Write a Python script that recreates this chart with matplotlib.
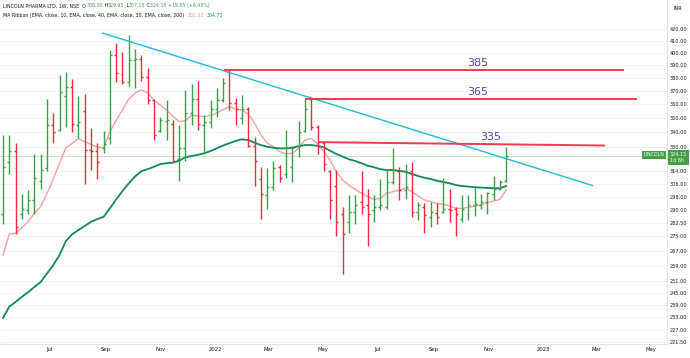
import numpy as np
import pandas as pd
import matplotlib
matplotlib.use("Agg")
import matplotlib.pyplot as plt
import matplotlib.dates as mdates
from matplotlib.ticker import FixedLocator, NullLocator, NullFormatter
from matplotlib.offsetbox import TextArea, HPacker, VPacker, AnchoredOffsetbox

# weekly bars, LINCOLN (NSE)
first_week = "2021-05-10"
opens = [288, 320, 327, 288, 290, 296, 308, 316, 345, 342, 366, 373, 345, 355, 328, 327, 329, 336, 398, 383,
         377, 394, 395, 381, 363, 341, 348, 346, 322, 329, 354, 364, 345, 347, 357, 363, 385, 361, 350, 357,
         331, 309, 299, 304, 317, 312, 317, 331, 341, 364, 344, 333, 314, 305, 288, 283, 289, 295, 293, 290,
         292, 292, 307, 314, 302, 314, 289, 292, 286, 288.5, 289, 291, 291, 285, 288, 293, 293, 295, 300, 303, 308]
highs = [338, 338, 333, 300, 302, 325, 325, 364, 354, 382, 385, 379, 366, 368, 343, 333, 341, 402, 408, 401,
         415, 403, 398, 388, 364, 351, 363, 349, 345, 371, 375, 378, 352, 363, 372, 380, 386, 365, 367, 358,
         337, 317, 316, 321, 318, 342, 331, 348, 364, 365, 345, 334, 315, 315, 292, 299, 299, 314, 303, 299,
         309, 315, 329, 317, 319, 320, 295, 294.5, 295, 294.5, 310, 303, 292, 299, 299, 304, 300, 301, 311, 308.5, 329.95]
lows = [282, 312, 276, 285, 288, 288, 303, 314, 333, 341, 344, 340, 336, 306, 315, 309, 326, 332, 377, 375,
        374, 372, 378, 360, 335, 340, 335, 320, 308, 321, 345, 342, 326, 343, 351, 362, 356, 345, 346, 330,
        305, 285, 291, 302, 307, 310, 307, 323, 340, 342, 325, 314, 285, 275, 254.5, 277, 282, 288, 269.5, 283,
        290, 291, 306, 296, 297, 286, 284.5, 277, 280, 282, 288.5, 283, 275, 283, 284.5, 286.5, 291, 288, 296, 302, 307.15]
closes = [317, 327, 280, 291, 296, 310, 315, 345, 340, 369, 373, 346, 347, 328, 327, 320, 332, 398, 384, 377,
          394, 395, 381, 363, 338, 349, 349, 321, 329, 354, 364, 346, 347, 357, 363, 376, 361, 357, 357, 331,
          321, 300, 304, 316, 310, 329, 329, 340, 357, 344, 330, 319, 296, 283, 276, 289, 293, 292, 288, 292,
          293, 307, 315, 302, 304, 289, 293, 287, 289, 286, 291, 290, 288, 291, 293, 294, 295, 300.5, 303, 307, 324.15]

# MA ribbon lines as drawn (EMA 10 and EMA 40)
ema10 = [264.6, 276.1, 276.6, 279.8, 283.2, 288.2, 292.2, 300.2, 309.1, 319.2, 329.5, 332.4, 335.8, 333.5, 331.8,
         329.8, 329.5, 340.4, 348.7, 355.9, 364, 368.5, 370.8, 368.8, 363.3, 359.6, 355.9, 351.4, 347.6, 348.3,
         352.3, 351.6, 351.2, 351.9, 353.7, 356.3, 358.5, 356.4, 355.9, 353, 346.4, 338.2, 332.8, 330.2, 326.9,
         325.3, 325.8, 329.1, 334.7, 335.8, 332.4, 326.9, 321.3, 313.7, 308.5, 305.3, 302.6, 300.2, 298.1, 296.5,
         297.1, 300.2, 301.2, 302.2, 303.3, 301.2, 298.5, 296.1, 295.1, 294.1, 293.5, 292.5, 291.1, 291.1, 291.7,
         292.5, 293.1, 294.5, 295.5, 296.5, 302.23]
ema40 = [232.6, 238.1, 240.4, 242.9, 245.3, 247.9, 250.4, 254.8, 259.3, 264.6, 272.3, 276.1, 278.5, 280.8, 283.2,
         284.8, 286.1, 291.1, 296.5, 301.6, 306.4, 310.7, 314.1, 315.4, 316.9, 318.7, 319.2, 319.6, 320.9, 323.1,
         324, 324.8, 325.8, 327.3, 329.1, 331, 332.6, 334.2, 335.2, 334.7, 332.9, 331.3, 330.2, 329.5, 329.1,
         329.1, 329.5, 330.6, 331.3, 331.3, 330.8, 329.8, 327.5, 325.3, 323.6, 321.8, 320.7, 319.2, 317.6, 316.6,
         315.4, 314.8, 314.8, 314.3, 313.7, 312.3, 311, 309.9, 309.1, 308, 307.2, 306.4, 305.3, 304.7, 304.3,
         304, 303.7, 303.5, 303.3, 303.3, 304.71]

# drawings
trend_dates = ["2021-08-29", "2023-02-25"]
trend_prices = [416.5, 305]
level_labels = ["385", "365", "335"]
level_starts = ["2022-01-11", "2022-04-11", "2022-04-26"]
level_ends = ["2023-04-01", "2023-04-15", "2023-03-11"]
level_prices_start = [386, 364, 333.3]
level_prices_end = [386, 364, 331]
label_dates = ["2022-10-20", "2022-10-20", "2022-11-04"]

yticks = [420, 410, 400, 390, 380, 370, 360, 350, 340, 330, 314, 306, 298, 290, 282.5, 275, 267, 259,
          251, 245, 239, 233, 227, 221.5]
xtick_dates = ["2021-07-01", "2021-09-01", "2021-11-01", "2022-01-01", "2022-03-01", "2022-05-01",
               "2022-07-01", "2022-09-01", "2022-11-01", "2023-01-01", "2023-03-01", "2023-05-01"]
xtick_labels = ["Jul", "Sep", "Nov", "2022", "Mar", "May", "Jul", "Sep", "Nov", "2023", "Mar", "May"]

GREEN = "#3a9f45"
RED = "#ee2a3c"

dates = pd.date_range(first_week, periods=len(closes), freq="7D")
x = mdates.date2num(dates)
o = np.array(opens); h = np.array(highs); l = np.array(lows); c = np.array(closes)
cols = np.where(c >= o, GREEN, RED)

fig = plt.figure(figsize=(6.9, 3.58), dpi=100)
ax = fig.add_axes([0, 14 / 358, 667 / 690, 344 / 358])
ax.set_yscale("log")

# faint horizontal grid
for yt in yticks:
    ax.axhline(yt, color="#f2f3f7", lw=0.6, zorder=0)

# OHLC bars
tick = 2.2
ax.vlines(x, l, h, colors=cols, lw=1.0, zorder=3)
ax.hlines(o, x - tick, x, colors=cols, lw=1.0, zorder=3)
ax.hlines(c, x, x + tick, colors=cols, lw=1.0, zorder=3)

# MA ribbon
ax.plot(x, ema10, color="#f7a0a0", lw=1.0, zorder=2)
ax.plot(x, ema40, color="#11875f", lw=1.3, zorder=2)

# trend line
ax.plot(mdates.date2num(pd.to_datetime(trend_dates)), trend_prices, color="#1cbcd6", lw=1.0, zorder=4)

# resistance levels
for lab, s, e, ps, pe, ld in zip(level_labels, level_starts, level_ends, level_prices_start, level_prices_end, label_dates):
    xs = mdates.date2num(pd.to_datetime([s, e]))
    ax.plot(xs, [ps, pe], color="#ef3b4f", lw=1.4, zorder=4, solid_capstyle="butt")
    lx = mdates.date2num(pd.Timestamp(ld))
    ly = ps + (pe - ps) * (lx - xs[0]) / (xs[1] - xs[0])
    ax.annotate(lab, xy=(lx, ly), xytext=(0, 1.5), textcoords="offset points",
                ha="center", va="bottom", fontsize=8, color="#5b3cc4", zorder=5)

# last price line
last = closes[-1]
ax.axhline(last, color="#c9e8cc", lw=0.8, zorder=1)

ax.set_xlim(mdates.date2num(dates[0]) - 3.3, mdates.date2num(dates[0]) + 738.9)
ax.set_ylim(220.6, 445.7)

ax.yaxis.tick_right()
ax.yaxis.set_major_locator(FixedLocator(yticks))
ax.yaxis.set_major_formatter(matplotlib.ticker.FuncFormatter(lambda v, p: "%.2f" % v))
ax.yaxis.set_minor_locator(NullLocator())
ax.yaxis.set_minor_formatter(NullFormatter())
ax.tick_params(axis="y", length=0, pad=2.2, labelsize=3.6, labelcolor="#131722")

ax.set_xticks(mdates.date2num(pd.to_datetime(xtick_dates)))
ax.set_xticklabels(xtick_labels)
ax.tick_params(axis="x", length=0, pad=2.5, labelsize=3.8, labelcolor="#131722")

for side in ["top", "left"]:
    ax.spines[side].set_visible(False)
ax.spines["right"].set_color("#e0e3eb")
ax.spines["bottom"].set_color("#e0e3eb")
ax.spines["right"].set_linewidth(0.8)
ax.spines["bottom"].set_linewidth(0.8)

# currency label
ax.annotate("INR", xy=(1, 1), xycoords="axes fraction", xytext=(5, -6), textcoords="offset points",
            fontsize=3.6, color="#131722", ha="left", va="center")

# last price tags
ax.annotate("324.15\n1d 8h", xy=(1, last), xycoords=("axes fraction", "data"), xytext=(2.2, 2.6),
            textcoords="offset points", ha="left", va="top", fontsize=3.5, color="white", linespacing=1.2,
            bbox=dict(boxstyle="square,pad=0.35", fc="#43a047", ec="none"), annotation_clip=False, zorder=6)
ax.annotate("LINCOLN", xy=(1, last), xycoords=("axes fraction", "data"), xytext=(-2.0, 0.6),
            textcoords="offset points", ha="right", va="center", fontsize=3.4, color="white",
            bbox=dict(boxstyle="square,pad=0.3", fc="#43a047", ec="none"), zorder=6)

# legend lines
dark = "#131722"
sz = 3.4
def ta(s, col):
    return TextArea(s, textprops=dict(color=col, size=sz))

row1 = HPacker(children=[ta("LINCOLN PHARMA LTD, 1W, NSE  O", dark), ta("308.00", GREEN), ta(" H", dark),
                         ta("329.95", GREEN), ta(" L", dark), ta("307.15", GREEN), ta(" C", dark),
                         ta("324.15 +19.65 (+6.45%)", GREEN)], align="baseline", pad=0, sep=0)
row2 = HPacker(children=[ta("MA Ribbon (EMA, close, 10, EMA, close, 40, EMA, close, 30, EMA, close, 200)  ", dark),
                         ta("302.23", "#f28b8b"), ta("  ", dark), ta("304.71", "#11875f")],
               align="baseline", pad=0, sep=0)
box = VPacker(children=[row1, row2], align="left", pad=0, sep=3)
anchored = AnchoredOffsetbox(loc="upper left", child=box, pad=0, borderpad=0.25, frameon=False,
                             bbox_to_anchor=(0, 1), bbox_transform=ax.transAxes)
ax.add_artist(anchored)

fig.savefig("out.png", dpi=100)
